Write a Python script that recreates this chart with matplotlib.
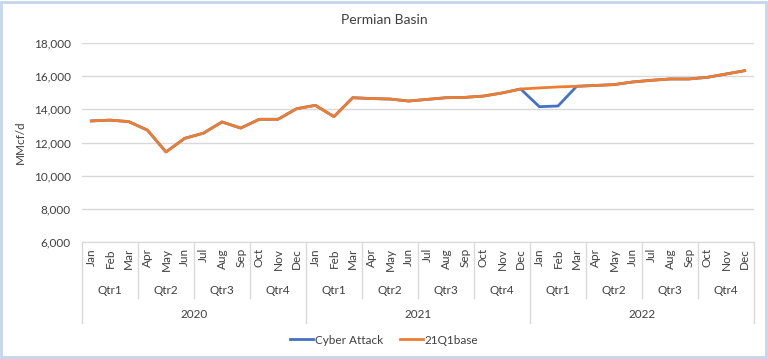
import matplotlib.pyplot as plt
from matplotlib.transforms import blended_transform_factory
from matplotlib.patches import Rectangle
from matplotlib.lines import Line2D

plt.rcParams['font.family'] = ['Lato', 'DejaVu Sans']

months = ['Jan', 'Feb', 'Mar', 'Apr', 'May', 'Jun', 'Jul', 'Aug', 'Sep', 'Oct', 'Nov', 'Dec']
quarters = ['Qtr1', 'Qtr2', 'Qtr3', 'Qtr4']
years = ['2020', '2021', '2022']

base = [13300, 13350, 13260, 12750, 11430, 12250, 12560, 13240, 12870, 13400, 13400, 14040,
        14240, 13560, 14700, 14650, 14620, 14500, 14600, 14700, 14720, 14800, 14985, 15225,
        15290, 15350, 15390, 15440, 15490, 15650, 15750, 15830, 15830, 15930, 16130, 16330]
cyber = [13300, 13350, 13260, 12750, 11430, 12250, 12560, 13240, 12870, 13400, 13400, 14040,
         14240, 13560, 14700, 14650, 14620, 14500, 14600, 14700, 14720, 14800, 14985, 15225,
         14160, 14200, 15390, 15440, 15490, 15650, 15750, 15830, 15830, 15930, 16130, 16330]

W, H = 768, 359
fs = 8.5
txt = '#404040'
fig = plt.figure(figsize=(W / 100, H / 100), dpi=100)
ax = fig.add_axes([82 / W, 1 - 242 / H, (754 - 82) / W, (242 - 43) / H])

n = len(base)
xs = [i + 0.5 for i in range(n)]
ax.plot(xs, cyber, color='#4472C4', lw=2, label='Cyber Attack', solid_joinstyle='round')
ax.plot(xs, base, color='#ED7D31', lw=2, label='21Q1base', solid_joinstyle='round')

ax.set_xlim(0, n)
ax.set_ylim(6000, 18000)
ax.set_yticks(range(6000, 18001, 2000))
ax.set_yticklabels(['{:,}'.format(v) for v in range(6000, 18001, 2000)], fontsize=fs, color=txt)
ax.tick_params(axis='y', length=0, pad=8)
ax.set_xticks([])
ax.grid(axis='y', color='#D9D9D9', lw=1)
ax.set_axisbelow(True)
for s in ['top', 'right', 'left']:
    ax.spines[s].set_visible(False)
ax.spines['bottom'].set_color('#D9D9D9')
ax.set_ylabel('MMcf/d', fontsize=fs, color=txt, labelpad=6)

fy = lambda p: 1 - p / H
fig.text(0.5, fy(20), 'Permian Basin', ha='center', va='center', fontsize=10, color=txt)

# multi-level category axis
tr = blended_transform_factory(ax.transData, fig.transFigure)
for i in range(n):
    ax.text(i + 0.5, fy(248), months[i % 12], rotation=90, ha='center', va='top',
            fontsize=fs, color=txt, transform=tr)
for q in range(n // 3):
    ax.text(q * 3 + 1.5, fy(291), quarters[q % 4], ha='center', va='center',
            fontsize=fs, color=txt, transform=tr)
for y in range(len(years)):
    ax.text(y * 12 + 6, fy(315), years[y], ha='center', va='center',
            fontsize=fs, color=txt, transform=tr)
for k in range(n // 3 + 1):
    bottom = 323 if k % 4 == 0 else 298
    ax.plot([k * 3, k * 3], [fy(242), fy(bottom)], color='#D9D9D9', lw=1,
            transform=tr, clip_on=False)

handles = [Line2D([], [], color='#4472C4', lw=2), Line2D([], [], color='#ED7D31', lw=2)]
fig.legend(handles, ['Cyber Attack', '21Q1base'], loc='center', bbox_to_anchor=(0.5, fy(340)),
           ncol=2, frameon=False, fontsize=fs, handlelength=1.95, handletextpad=0.1,
           columnspacing=1.45, labelcolor=txt)

fig.patches.append(Rectangle((1 / W, 2 / H), (W - 3) / W, (H - 4) / H, transform=fig.transFigure,
                             fill=False, edgecolor='#C5D5EE', lw=2))

fig.savefig('out.png', dpi=100)
